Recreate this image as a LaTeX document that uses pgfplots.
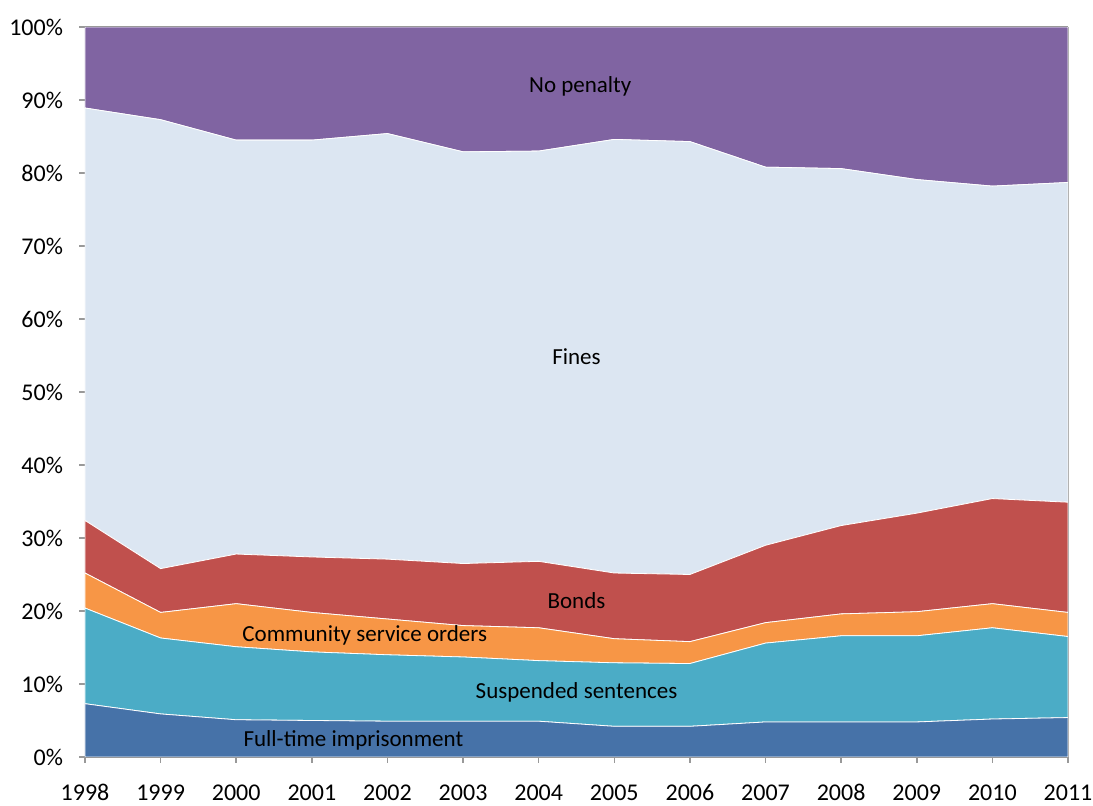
\documentclass[border=0pt]{standalone}
\usepackage{pgfplots}
\pgfplotsset{compat=1.18}
\usepackage{pgfplotstable}
\usepackage{fontspec}
\setmainfont{Carlito}
\definecolor{cFT}{HTML}{4672A8}
\definecolor{cSS}{HTML}{4BACC6}
\definecolor{cCSO}{HTML}{F79646}
\definecolor{cB}{HTML}{C0504D}
\definecolor{cF}{HTML}{DCE6F2}
\definecolor{cNP}{HTML}{8064A2}
\pgfplotstableread{
year FT SS CSO B F NP
1998 7.3 13.1 4.8 7.2 56.5 11.1
1999 5.9 10.4 3.5 6.0 61.5 12.7
2000 5.1 10.0 5.9 6.8 56.7 15.5
2001 5.0 9.4 5.4 7.6 57.1 15.5
2002 4.9 9.1 4.9 8.2 58.3 14.6
2003 4.9 8.8 4.3 8.5 56.4 17.1
2004 4.9 8.3 4.5 9.1 56.2 17.0
2005 4.2 8.7 3.3 9.0 59.4 15.4
2006 4.2 8.6 3.0 9.2 59.3 15.7
2007 4.8 10.8 2.8 10.6 51.8 19.2
2008 4.8 11.8 3.0 12.1 48.9 19.4
2009 4.8 11.8 3.3 13.5 45.7 20.9
2010 5.2 12.5 3.3 14.4 42.8 21.8
2011 5.4 11.1 3.3 15.1 43.8 21.3
}\datatable
\tikzset{lbl/.style={font=\fontsize{11.5}{13}\selectfont, text=black, inner sep=0pt}}
\newcommand{\lab}[3]{\node[lbl] at ($(ax.south west)+({(#1-1998)/13*491.5pt},{#2/100*365pt})$) {#3};}
\usetikzlibrary{calc}
\begin{document}
\begin{tikzpicture}
\begin{axis}[
  name=ax,
  scale only axis,
  width=491.5pt, height=365pt,
  xmin=1998, xmax=2011, ymin=0, ymax=100,
  stack plots=y,
  axis line style={draw=gray!80},
  tick style={draw=gray!80, line width=0.8pt},
  tick align=outside,
  major tick length=3pt,
  xtick={1998,1999,2000,2001,2002,2003,2004,2005,2006,2007,2008,2009,2010,2011},
  xticklabels={1998,1999,2000,2001,2002,2003,2004,2005,2006,2007,2008,2009,2010,2011},
  ytick={0,10,20,30,40,50,60,70,80,90,100},
  yticklabels={0\%,10\%,20\%,30\%,40\%,50\%,60\%,70\%,80\%,90\%,100\%},
  xtick pos=bottom, ytick pos=left,
  ticklabel style={font=\fontsize{12}{14}\selectfont},
  xticklabel style={anchor=base, inner sep=0pt, yshift=-18.8pt},
  yticklabel style={xshift=-4.5pt},
]
\addplot[fill=cFT, draw=white, line width=0.4pt, mark=none] table[x=year,y=FT]{\datatable} \closedcycle;
\addplot[fill=cSS, draw=white, line width=0.4pt, mark=none] table[x=year,y=SS]{\datatable} \closedcycle;
\addplot[fill=cCSO, draw=white, line width=0.4pt, mark=none] table[x=year,y=CSO]{\datatable} \closedcycle;
\addplot[fill=cB, draw=white, line width=0.4pt, mark=none] table[x=year,y=B]{\datatable} \closedcycle;
\addplot[fill=cF, draw=white, line width=0.4pt, mark=none] table[x=year,y=F]{\datatable} \closedcycle;
\addplot[fill=cNP, draw=white, line width=0.4pt, mark=none] table[x=year,y=NP]{\datatable} \closedcycle;
\end{axis}
\draw[gray!60, line width=0.4pt] (ax.south east) -- (ax.north east);
\draw[gray!80, line width=0.5pt] (ax.north west) -- (ax.north east);
\lab{2004.55}{91.8}{No penalty}
\lab{2004.5}{54.9}{Fines}
\lab{2004.5}{21.4}{Bonds}
\lab{2001.7}{16.6}{Community service orders}
\lab{2004.5}{8.8}{Suspended sentences}
\lab{2001.55}{2.3}{Full-time imprisonment}
\pgfresetboundingbox
\path[use as bounding box] ($(ax.south west)+(-42.5pt,-24.5pt)$) rectangle ($(ax.north east)+(12.5pt,13.5pt)$);
\end{tikzpicture}
\end{document}
